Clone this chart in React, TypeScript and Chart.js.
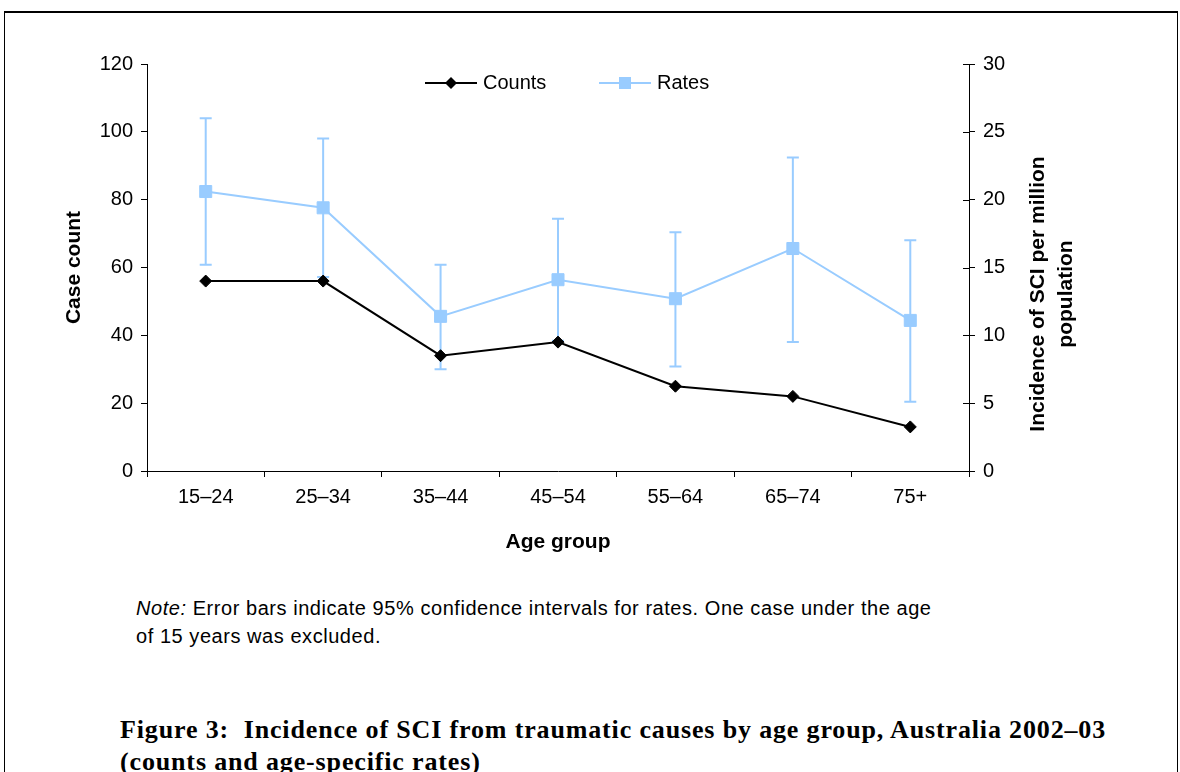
import { useEffect, useRef } from "react";
import { Chart, registerables } from "chart.js";

Chart.register(...registerables);

const ageGroups = ["15–24", "25–34", "35–44", "45–54", "55–64", "65–74", "75+"];
const counts = [56, 56, 34, 38, 25, 22, 13];
const rates = [20.6, 19.4, 11.4, 14.1, 12.7, 16.4, 11.1];
const rateLower = [15.2, 14.3, 7.5, 9.6, 7.7, 9.5, 5.1];
const rateUpper = [26.0, 24.5, 15.2, 18.6, 17.6, 23.1, 17.0];
const countRange = [0, 120];
const rateRange = [0, 30];

const COUNT_COLOR = "#000000";
const RATE_COLOR = "#99CCFF";
const FONT = "'Liberation Sans', Arial, sans-serif";

const errorBarPlugin = {
  id: "errorBars",
  beforeDatasetsDraw(chart: any) {
    const { ctx } = chart;
    const xs = chart.scales.x;
    const ys = chart.scales.y1;
    ctx.save();
    ctx.strokeStyle = RATE_COLOR;
    ctx.lineWidth = 2;
    const cap = 6;
    for (let i = 0; i < ageGroups.length; i++) {
      const x = xs.getPixelForValue(i);
      const yu = ys.getPixelForValue(rateUpper[i]);
      const yl = ys.getPixelForValue(rateLower[i]);
      ctx.beginPath();
      ctx.moveTo(x, yu);
      ctx.lineTo(x, yl);
      ctx.moveTo(x - cap, yu);
      ctx.lineTo(x + cap, yu);
      ctx.moveTo(x - cap, yl);
      ctx.lineTo(x + cap, yl);
      ctx.stroke();
    }
    ctx.restore();
  },
};

const extrasPlugin = {
  id: "extras",
  afterDraw(chart: any) {
    const { ctx } = chart;
    const y1 = chart.scales.y1;
    const area = chart.chartArea;
    ctx.save();
    // inner half of right-axis ticks (cross ticks)
    ctx.strokeStyle = "#000";
    ctx.lineWidth = 1;
    y1.ticks.forEach((t: any) => {
      const y = Math.round(y1.getPixelForValue(t.value)) + 0.5;
      ctx.beginPath();
      ctx.moveTo(area.right, y);
      ctx.lineTo(area.right - 6, y);
      ctx.stroke();
    });
    // right axis title, rotated reading upward
    ctx.fillStyle = "#000";
    ctx.font = `bold 21px ${FONT}`;
    ctx.textAlign = "center";
    ctx.textBaseline = "middle";
    ctx.translate(1052, 294);
    ctx.rotate(-Math.PI / 2);
    ctx.fillText("Incidence of SCI per million", 0, -14);
    ctx.fillText("population", 0, 14);
    ctx.restore();

    // legend
    ctx.save();
    const ly = 83;
    const items = [
      { x: 425, ds: chart.data.datasets[0] },
      { x: 599, ds: chart.data.datasets[1] },
    ];
    items.forEach(({ x, ds }) => {
      ctx.strokeStyle = ds.borderColor;
      ctx.fillStyle = ds.borderColor;
      ctx.lineWidth = 2;
      ctx.beginPath();
      ctx.moveTo(x, ly);
      ctx.lineTo(x + 52, ly);
      ctx.stroke();
      const cx = x + 26;
      if (ds.pointStyle === "rectRot") {
        ctx.beginPath();
        ctx.moveTo(cx, ly - 6);
        ctx.lineTo(cx + 6, ly);
        ctx.lineTo(cx, ly + 6);
        ctx.lineTo(cx - 6, ly);
        ctx.closePath();
        ctx.fill();
      } else {
        ctx.fillRect(cx - 6, ly - 6, 12, 12);
      }
      ctx.fillStyle = "#000";
      ctx.font = `20px ${FONT}`;
      ctx.textAlign = "left";
      ctx.textBaseline = "middle";
      ctx.fillText(ds.label, x + 58, ly);
    });
    ctx.restore();
  },
};

export default function App() {
  const ref = useRef<HTMLCanvasElement>(null);

  useEffect(() => {
    if (!ref.current) return;
    const chart = new Chart(ref.current, {
      type: "line",
      data: {
        labels: ageGroups,
        datasets: [
          {
            label: "Counts",
            data: counts,
            yAxisID: "y",
            borderColor: COUNT_COLOR,
            backgroundColor: COUNT_COLOR,
            borderWidth: 2,
            pointStyle: "rectRot",
            pointRadius: 6,
            pointBorderWidth: 1,
            pointBackgroundColor: COUNT_COLOR,
            pointBorderColor: COUNT_COLOR,
            tension: 0,
          },
          {
            label: "Rates",
            data: rates,
            yAxisID: "y1",
            borderColor: RATE_COLOR,
            backgroundColor: RATE_COLOR,
            borderWidth: 2,
            pointStyle: "rect",
            pointRadius: 8.5,
            pointBorderWidth: 1,
            pointBackgroundColor: RATE_COLOR,
            pointBorderColor: RATE_COLOR,
            tension: 0,
          },
        ],
      },
      options: {
        responsive: false,
        animation: false,
        devicePixelRatio: 1,
        layout: { padding: { top: 64, left: 0, right: 0, bottom: 0 } },
        plugins: {
          legend: { display: false },
          tooltip: { enabled: false },
          title: { display: false },
        },
        scales: {
          x: {
            type: "category",
            offset: true,
            grid: {
              offset: true,
              drawOnChartArea: false,
              drawTicks: true,
              tickLength: 6,
              color: "#000",
            },
            border: { color: "#000", width: 1 },
            ticks: {
              color: "#000",
              font: { family: FONT, size: 20 },
              padding: 8,
              maxRotation: 0,
              autoSkip: false,
            },
            title: {
              display: true,
              text: "Age group",
              color: "#000",
              font: { family: FONT, size: 21, weight: "bold" },
              padding: { top: 0, bottom: 25 },
            },
            afterFit: (s: any) => {
              s.height = 109;
            },
          },
          y: {
            position: "left",
            min: countRange[0],
            max: countRange[1],
            grid: { drawOnChartArea: false, tickLength: 6, color: "#000" },
            border: { color: "#000", width: 1 },
            ticks: {
              stepSize: 20,
              color: "#000",
              font: { family: FONT, size: 20 },
              padding: 8,
            },
            title: {
              display: true,
              text: "Case count",
              color: "#000",
              font: { family: FONT, size: 21, weight: "bold" },
              padding: { top: 62, bottom: 0 },
            },
            afterFit: (s: any) => {
              s.width = 147;
            },
          },
          y1: {
            position: "right",
            min: rateRange[0],
            max: rateRange[1],
            grid: { drawOnChartArea: false, tickLength: 6, color: "#000" },
            border: { color: "#000", width: 1 },
            ticks: {
              stepSize: 5,
              color: "#000",
              font: { family: FONT, size: 20 },
              padding: 8,
            },
            afterFit: (s: any) => {
              s.width = 211;
            },
          },
        },
      },
      plugins: [errorBarPlugin, extrasPlugin],
    } as any);
    return () => chart.destroy();
  }, []);

  return (
    <div
      style={{
        position: "absolute",
        left: 0,
        top: 0,
        width: 1180,
        height: 772,
        overflow: "hidden",
        background: "#fff",
        fontFamily: FONT,
      }}
    >
      <div
        style={{
          position: "absolute",
          left: 4,
          top: 11,
          width: 1172,
          height: 800,
          borderTop: "2px solid #000",
          borderLeft: "1px solid #000",
          borderRight: "1px solid #000",
        }}
      />
      <canvas
        ref={ref}
        width={1180}
        height={580}
        style={{ position: "absolute", left: 0, top: 0, width: 1180, height: 580 }}
      />
      <div
        style={{
          position: "absolute",
          left: 136,
          top: 594,
          fontSize: 20,
          letterSpacing: "0.55px",
          lineHeight: "28px",
          color: "#000",
          whiteSpace: "nowrap",
        }}
      >
        <i>Note:</i> Error bars indicate 95% confidence intervals for rates. One case under the age
        <br />
        of 15 years was excluded.
      </div>
      <div
        style={{
          position: "absolute",
          left: 120,
          top: 714,
          fontSize: 26,
          letterSpacing: "0.85px",
          lineHeight: "32px",
          fontWeight: "bold",
          color: "#000",
          whiteSpace: "nowrap",
          fontFamily: "'Palatino Linotype', 'Book Antiqua', 'Liberation Serif', 'DejaVu Serif', serif",
        }}
      >
        Figure 3:&nbsp; Incidence of SCI from traumatic causes by age group, Australia 2002–03
        <br />
        (counts and age-specific rates)
      </div>
    </div>
  );
}
